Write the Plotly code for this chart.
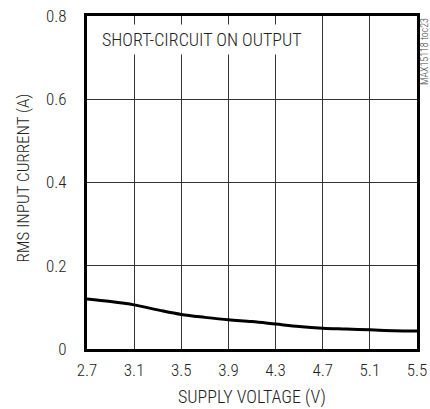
import plotly.graph_objects as go

voltage = [2.7, 2.9, 3.1, 3.3, 3.5, 3.7, 3.9, 4.1, 4.3, 4.5, 4.7, 4.9, 5.1, 5.3, 5.5]
current = [0.120, 0.114, 0.106, 0.094, 0.083, 0.076, 0.070, 0.066, 0.060, 0.054, 0.050, 0.048, 0.046, 0.044, 0.043]
x_ticks = [2.7, 3.1, 3.5, 3.9, 4.3, 4.7, 5.1, 5.5]
y_ticks = [0, 0.2, 0.4, 0.6, 0.8]
y_tick_labels = ["0", "0.2", "0.4", "0.6", "0.8"]

FONT = "Roboto Condensed, Roboto, sans-serif"

fig = go.Figure()
fig.add_trace(go.Scatter(x=voltage, y=current, mode="lines",
                         line=dict(color="black", width=3, shape="spline"),
                         showlegend=False, hoverinfo="skip"))

fig.update_layout(
    width=430, height=409,
    margin=dict(l=87, r=13, t=16, b=60),
    paper_bgcolor="white", plot_bgcolor="white",
    font=dict(family=FONT, size=17, color="#222", weight=300),
    xaxis=dict(range=[2.7, 5.5], tickvals=x_ticks, ticktext=[f"{v:.1f}" for v in x_ticks],
               showgrid=True, gridcolor="#333", gridwidth=1, zeroline=False,
               showline=True, linecolor="black", linewidth=3, mirror=True,
               ticks="", ticklabelstandoff=4, automargin=False,
               tickfont=dict(family=FONT, size=17, weight=300)),
    yaxis=dict(range=[0, 0.8], tickvals=y_ticks, ticktext=y_tick_labels,
               showgrid=True, gridcolor="#333", gridwidth=1, zeroline=False,
               showline=True, linecolor="black", linewidth=3, mirror=True,
               ticks="", ticklabelstandoff=14, automargin=False,
               tickfont=dict(family=FONT, size=17, weight=300)),
    annotations=[
        dict(text="SUPPLY VOLTAGE (V)", xref="paper", yref="paper",
             x=0.5, y=0, xanchor="center", yanchor="middle", yshift=-48,
             showarrow=False, font=dict(size=18, weight=300)),
        dict(text="RMS INPUT CURRENT (A)", xref="paper", yref="paper",
             x=0, y=0.5, xanchor="center", yanchor="middle", xshift=-65, yshift=4,
             textangle=-90, showarrow=False, font=dict(size=17, weight=300)),
        dict(text="SHORT-CIRCUIT ON OUTPUT", xref="paper", yref="paper",
             x=0.03, y=0.93, xanchor="left", yanchor="middle", showarrow=False,
             bgcolor="white", borderpad=4, font=dict(size=18, weight=300)),
        dict(text="MAX15118 toc23", xref="paper", yref="paper",
             x=1.0, y=1.0, xanchor="left", yanchor="top", xshift=0, showarrow=False,
             textangle=-90, font=dict(size=10, color="#444", weight=300)),
    ],
)

fig.write_html("out.html", config={"displayModeBar": False},
               post_script="document.body.style.margin='0';")
